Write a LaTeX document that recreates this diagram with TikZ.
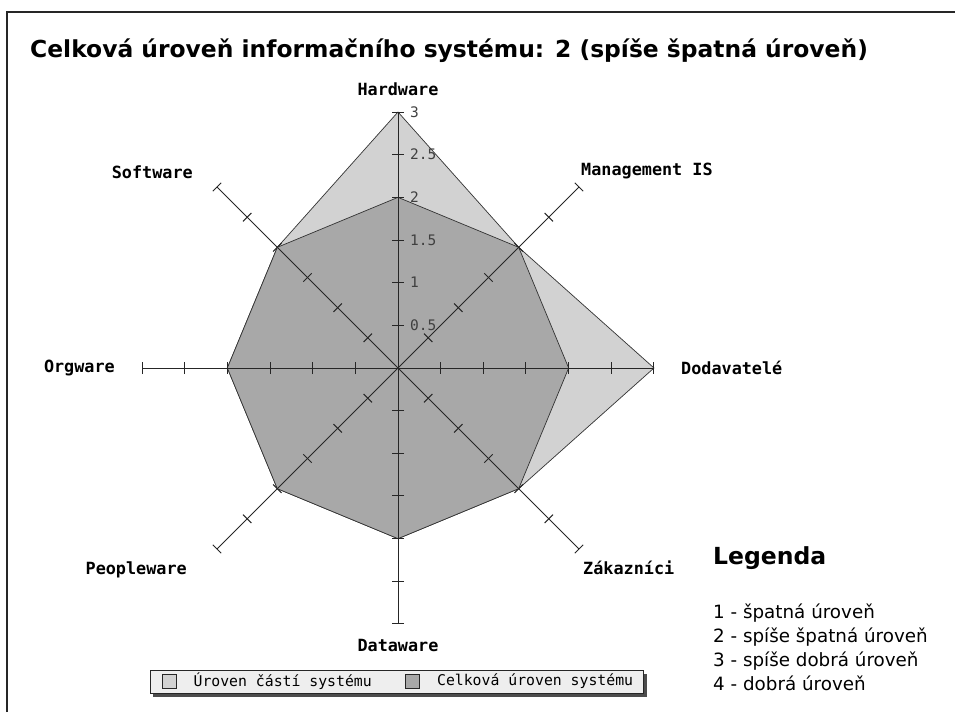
\documentclass[tikz,border=0pt]{standalone}
\usepackage{fontspec}
\setmainfont{DejaVu Sans}
\newfontfamily\pixfont{DejaVu Sans Mono}
\usetikzlibrary{positioning, shadows}
\definecolor{svetla}{HTML}{D2D2D2}
\definecolor{tmava}{HTML}{A8A8A8}
\definecolor{ramec}{HTML}{EEEEEE}

\begin{document}
\begin{tikzpicture}[x=1pt, y=1pt,
    osa/.style={line width=1pt, black!85},
    plocha/.style={draw=black!80, line width=0.7pt},
    popis/.style={font=\pixfont\bfseries\fontsize{16.8}{17}\selectfont, inner sep=0pt},
    cislo/.style={font=\pixfont\fontsize{14.5}{15}\selectfont, text=black!75, inner sep=0pt, anchor=west},
    vzorek/.style={draw=black!85, line width=0.8pt, minimum size=14pt, inner sep=0pt},
    legtext/.style={font=\pixfont\fontsize{14.8}{15}\selectfont, inner sep=0pt}]
  \useasboundingbox (-398,-344) rectangle (557,368);
  \def\u{85.33}
  % ramecek a nadpis
  \draw[line width=2.2pt, black!85] (-391,-344) -- (-391,356) -- (557,356);
  \node[anchor=west, inner sep=0pt, font=\bfseries\fontsize{23.4}{24}\selectfont] (nadpis) at (-368,317)
    {Celková úroveň informačního systému: 2 (spíše špatná úroveň)};

  % urovne
  \filldraw[plocha, fill=svetla] (90:3*\u) -- (45:2*\u) -- (0:3*\u) -- (-45:2*\u)
    -- (-90:2*\u) -- (-135:2*\u) -- (180:2*\u) -- (135:2*\u) -- cycle;
  \filldraw[plocha, fill=tmava] (0:2*\u)
    \foreach \a in {45,90,...,315} { -- (\a:2*\u) } -- cycle;

  % osy
  \coordinate (o) at (0,0);
  \foreach \a/\n in {90/hw,45/mis,0/dod,-45/zak,-90/dat,-135/peo,180/org,135/sof} {
    \coordinate (\n) at (\a:3*\u);
    \draw[osa] (o) -- (\n);
    \foreach \k in {0.5,1,...,3}
      \draw[osa] (\a:\k*\u) ++(\a+90:6) -- ++(\a-90:12);
  }
  \foreach \k in {0.5,1,1.5,2,2.5,3}
    \node[cislo] (c\k) at (12,\k*\u) {\k};

  \node[popis, above=16pt of hw] (lhw) {Hardware};
  \node[popis, above right=8pt and 2pt of mis, anchor=south west] (lmis) {Management IS};
  \node[popis, right=27pt of dod] (ldod) {Dodavatelé};
  \node[popis, below right=12pt and 4pt of zak, anchor=north west] (lzak) {Zákazníci};
  \node[popis, below=15pt of dat] (ldat) {Dataware};
  \node[popis, below left=13pt and 30pt of peo, anchor=north east] (lpeo) {Peopleware};
  \node[popis, left=27pt of org] (lorg) {Orgware};
  \node[popis, above left=8pt and 24pt of sof, anchor=south east] (lsof) {Software};

  % legenda grafu
  \node[draw=black!85, line width=0.8pt, fill=ramec, minimum width=493pt, minimum height=23pt,
    drop shadow={shadow xshift=3.5pt, shadow yshift=-3.5pt, opacity=1, fill=black!70}] (leg) at (-1.5,-313.5) {};
  \node[vzorek, fill=svetla, right=12pt of leg.west] (s1) {};
  \node[legtext, right=17pt of s1] (t1) {Úroven částí systému};
  \node[vzorek, fill=tmava] (s2) at (14.5,-313.5) {};
  \node[legtext, right=17pt of s2] (t2) {Celková úroven systému};

  % legenda urovni
  \node[anchor=west, inner sep=0pt, font=\bfseries\fontsize{23.5}{24}\selectfont] (legenda) at (315,-190) {Legenda};
  \node[anchor=north west, inner sep=0pt, align=left, font=\fontsize{18.3}{24}\selectfont] (seznam) at (315,-236)
    {1 - špatná úroveň\\ 2 - spíše špatná úroveň\\ 3 - spíše dobrá úroveň\\ 4 - dobrá úroveň};
\end{tikzpicture}
\end{document}
